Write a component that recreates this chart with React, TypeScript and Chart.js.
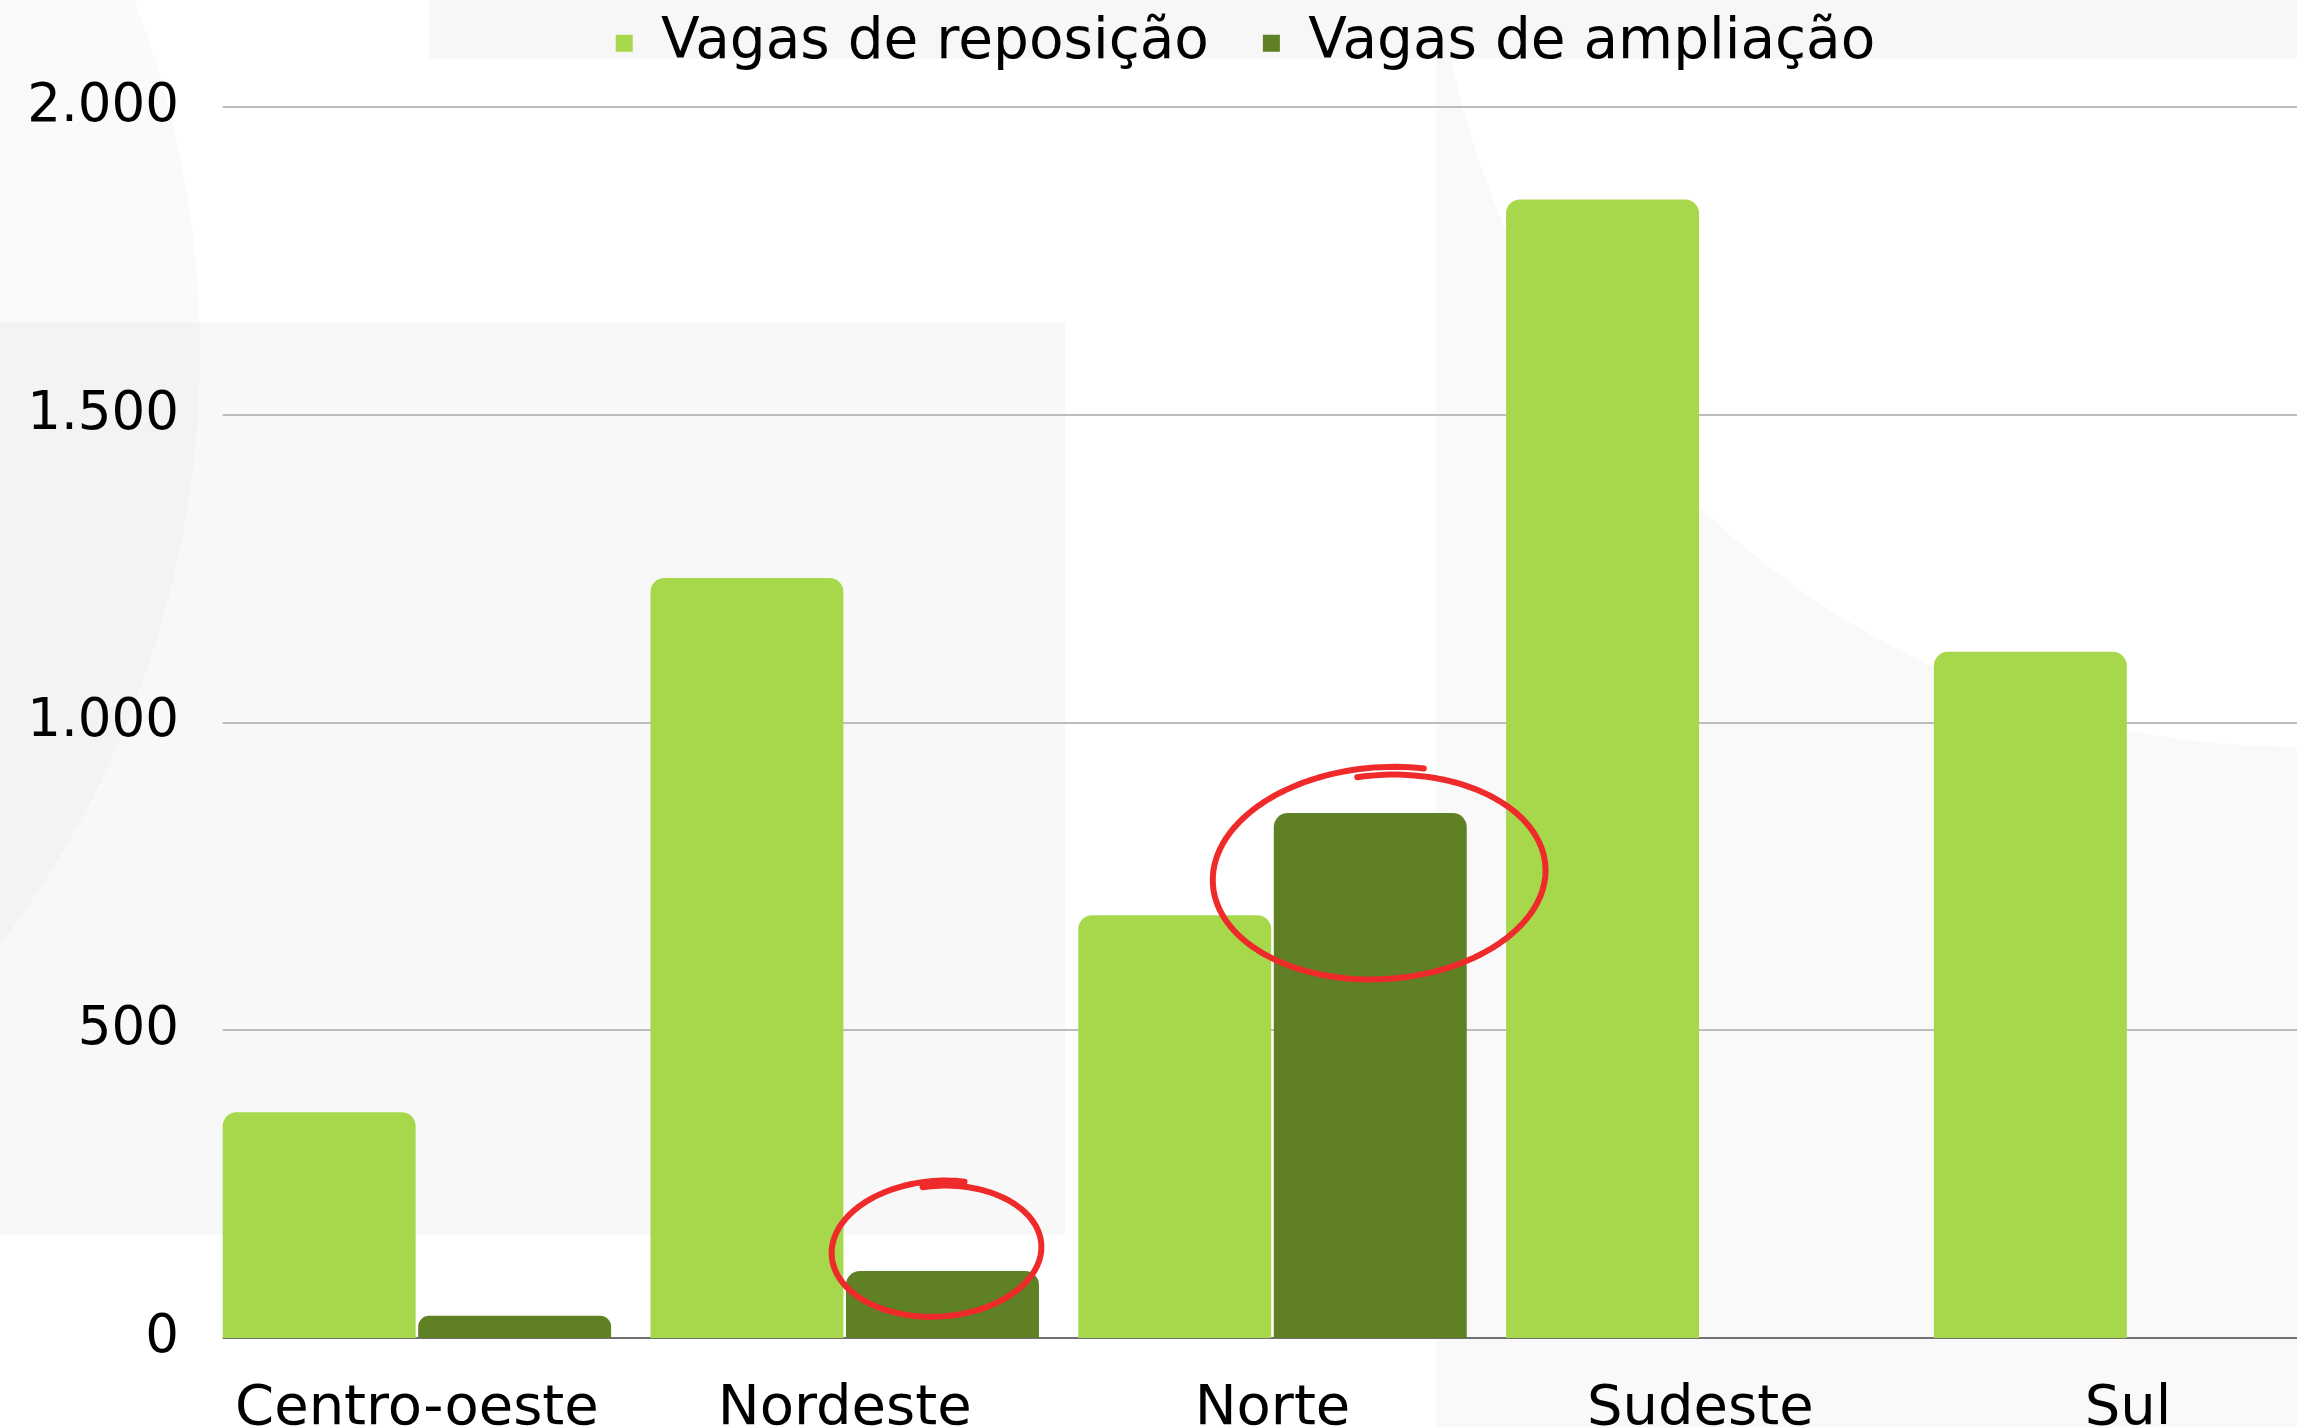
import React, { useEffect, useRef } from "react";
import { Chart, registerables } from "chart.js";

Chart.register(...registerables);

// ---- data ----
const categories = ["Centro-oeste", "Nordeste", "Norte", "Sudeste", "Sul"];
const seriesLabels = ["Vagas de reposição", "Vagas de ampliação"];
const reposicao = [367, 1235, 687, 1850, 1115];
const ampliacao = [36, 109, 853, 0, 0];
const yTickValues = [0, 500, 1000, 1500, 2000];
const circledAmpliacao = [1, 2];

// ---- styles ----
const COLORS = { light: "#A7D84B", dark: "#5F8024", red: "#EE2A2A" };
const FONT = "'DejaVu Sans', sans-serif";
const CANVAS_W = 2342;
const CANVAS_H = 1460;
const ZERO_Y = 1338;
const LEGEND_SHIFT = -27;
const circleStyles: Record<number, { dx: number; dy: number; rx: number; ry: number; rot: number }> = {
  1: { dx: -4, dy: -21, rx: 104, ry: 66, rot: -0.06 },
  2: { dx: 12, dy: 62, rx: 165, ry: 103, rot: -0.06 },
};

const fmt = (v: number) => String(v).replace(/\B(?=(\d{3})+(?!\d))/g, ".");

const gridPlugin = {
  id: "barGrid",
  beforeDatasetsDraw(chart: any) {
    const { ctx, chartArea } = chart;
    const y = chart.scales.y;
    const first: any = chart.getDatasetMeta(0).data[0];
    if (!first) return;
    const x0 = first.x - first.width / 2;
    ctx.save();
    for (const v of yTickValues) {
      const py = Math.round(y.getPixelForValue(v));
      ctx.beginPath();
      ctx.lineWidth = 2;
      ctx.strokeStyle = v === 0 ? "#707070" : "#BDBDBD";
      ctx.moveTo(x0, py);
      ctx.lineTo(chartArea.right, py);
      ctx.stroke();
    }
    ctx.restore();
  },
};

const legendShiftPlugin = {
  id: "legendShift",
  afterLayout(chart: any) {
    const l = chart.legend;
    if (l) {
      l.left += LEGEND_SHIFT;
      l.right += LEGEND_SHIFT;
    }
  },
};

const scribblePlugin = {
  id: "scribble",
  afterDatasetsDraw(chart: any) {
    const { ctx } = chart;
    const meta = chart.getDatasetMeta(1);
    ctx.save();
    ctx.strokeStyle = COLORS.red;
    ctx.lineWidth = 6;
    ctx.lineCap = "round";
    ctx.lineJoin = "round";
    for (const i of circledAmpliacao) {
      const bar: any = meta.data[i];
      const s = circleStyles[i];
      if (!bar || !s) continue;
      const cx = bar.x + s.dx;
      const cy = bar.y + s.dy;
      const total = Math.PI * 2 + 0.4;
      const start = -Math.PI / 2 - 0.12;
      const N = 160;
      ctx.beginPath();
      for (let k = 0; k <= N; k++) {
        const t = k / N;
        const a = start + t * total;
        const f = 0.97 + 0.08 * t;
        const ex = Math.cos(a) * s.rx * f;
        const ey = Math.sin(a) * s.ry * f;
        const px = cx + ex * Math.cos(s.rot) - ey * Math.sin(s.rot);
        const py = cy + ex * Math.sin(s.rot) + ey * Math.cos(s.rot);
        if (k === 0) ctx.moveTo(px, py);
        else ctx.lineTo(px, py);
      }
      ctx.stroke();
    }
    ctx.restore();
  },
};

export default function App() {
  const ref = useRef<HTMLCanvasElement | null>(null);

  useEffect(() => {
    document.body.style.margin = "0";
    const canvas = ref.current;
    if (!canvas) return;
    const chart = new Chart(canvas, {
      type: "bar",
      data: {
        labels: categories,
        datasets: [
          {
            label: seriesLabels[0],
            data: reposicao,
            backgroundColor: COLORS.light,
            borderRadius: 14,
            borderSkipped: "start",
            categoryPercentage: 0.914,
            barPercentage: 0.987,
          },
          {
            label: seriesLabels[1],
            data: ampliacao,
            backgroundColor: COLORS.dark,
            borderRadius: 14,
            borderSkipped: "start",
            categoryPercentage: 0.914,
            barPercentage: 0.987,
          },
        ],
      },
      options: {
        responsive: false,
        animation: false,
        devicePixelRatio: 1,
        layout: { padding: { top: -39, left: 0, right: 0, bottom: 0 } },
        plugins: {
          legend: {
            position: "top",
            fullSize: false,
            labels: {
              boxWidth: 17,
              boxHeight: 17,
              padding: 54,
              color: "#000",
              font: { family: FONT, size: 56.5 },
            },
          },
          title: {
            display: true,
            text: "",
            weight: 500,
            position: "top",
            padding: { top: 0, bottom: 24.5 },
            font: { size: 1 },
          } as any,
          tooltip: { enabled: false },
        },
        scales: {
          x: {
            grid: { display: false, drawTicks: false },
            border: { display: false },
            ticks: {
              color: "#000",
              font: { family: FONT, size: 56 },
              padding: 38,
              maxRotation: 0,
              autoSkip: false,
            },
            afterFit: (s: any) => {
              s.height = CANVAS_H - ZERO_Y;
            },
          },
          y: {
            min: 0,
            max: 2000,
            grid: { display: false, drawTicks: false },
            border: { display: false },
            ticks: {
              color: "#000",
              font: { family: FONT, size: 53 },
              padding: 24,
              callback: (v: any) => fmt(Number(v)),
            },
            afterBuildTicks: (s: any) => {
              s.ticks = yTickValues.map((v) => ({ value: v }));
            },
            afterFit: (s: any) => {
              s.width = 203;
            },
          },
        },
      } as any,
      plugins: [gridPlugin, legendShiftPlugin, scribblePlugin],
    });
    return () => chart.destroy();
  }, []);

  return (
    <div
      style={{
        position: "relative",
        width: 2297,
        height: 1427,
        overflow: "hidden",
        background: "#FFFFFF",
      }}
    >
      <div
        style={{
          position: "absolute",
          left: 1436,
          top: 0,
          width: 861,
          height: 1427,
          background: "#F9F9F9",
          overflow: "hidden",
        }}
      >
        <div
          style={{
            position: "absolute",
            left: 861 - 864,
            top: -117 - 864,
            width: 1728,
            height: 1728,
            borderRadius: "50%",
            background: "#FFFFFF",
          }}
        />
      </div>
      <div
        style={{
          position: "absolute",
          left: 429,
          top: 0,
          width: 1868,
          height: 59,
          background: "#F7F7F7",
        }}
      />
      <div
        style={{
          position: "absolute",
          left: 0,
          top: 322,
          width: 1065,
          height: 913,
          background: "rgba(0,0,0,0.026)",
        }}
      />
      <div
        style={{
          position: "absolute",
          left: -780 - 980,
          top: 352 - 980,
          width: 1960,
          height: 1960,
          borderRadius: "50%",
          background: "rgba(0,0,0,0.018)",
        }}
      />
      <canvas
        ref={ref}
        width={CANVAS_W}
        height={CANVAS_H}
        style={{ position: "absolute", left: 0, top: 0, width: CANVAS_W, height: CANVAS_H }}
      />
    </div>
  );
}
